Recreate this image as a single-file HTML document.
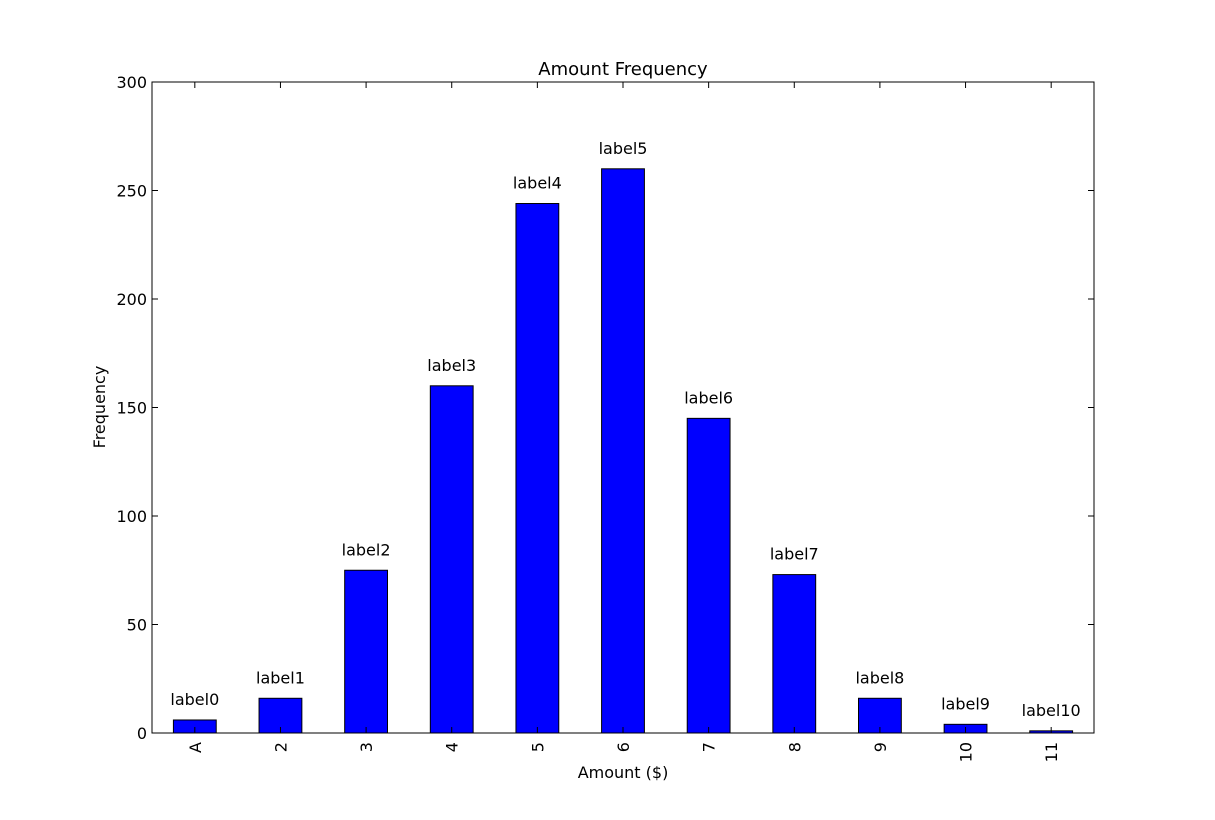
<!DOCTYPE html>
<html><head><meta charset="utf-8"><style>
body{margin:0;background:#fff;}
svg text{font-family:"DejaVu Sans","Liberation Sans",sans-serif;fill:#000;}
</style></head><body>
<svg id="chart" width="1215" height="815" xmlns="http://www.w3.org/2000/svg">
<rect width="1215" height="815" fill="#fff"/>
<text x="623" y="75" font-size="18" text-anchor="middle">Amount Frequency</text>
<text x="623" y="778" font-size="16" text-anchor="middle">Amount ($)</text>
<text transform="translate(105,407) rotate(-90)" font-size="16" text-anchor="middle">Frequency</text>
<g id="plot"></g>
</svg>
<script>
const categories = ["A","2","3","4","5","6","7","8","9","10","11"];
const values = [6,16,75,160,244,260,145,73,16,4,1];
const barLabels = ["label0","label1","label2","label3","label4","label5","label6","label7","label8","label9","label10"];
const yTicks = [0,50,100,150,200,250,300];

const L=152,R=1094,T=82,B=733,yMax=300;
const n=categories.length, step=(R-L)/n, bw=step*0.5;
const xC=i=>L+step*(i+0.5);
const y=v=>B-(v/yMax)*(B-T);
const NS="http://www.w3.org/2000/svg";
const g=document.getElementById('plot');
function mk(t,a){const e=document.createElementNS(NS,t);for(const k in a)e.setAttribute(k,a[k]);g.appendChild(e);return e;}

values.forEach((v,i)=>{
  const r=mk('rect',{x:xC(i)-bw/2,y:y(v),width:bw,height:B-y(v),fill:'#0000ff',stroke:'#000','stroke-width':1});
  
  
  const t=mk('text',{x:xC(i),y:y(v)-15,'font-size':16,'text-anchor':'middle'});
  t.textContent=barLabels[i];
  
  
  mk('line',{x1:xC(i),x2:xC(i),y1:B,y2:B-6,stroke:'#000'});
  mk('line',{x1:xC(i),x2:xC(i),y1:T,y2:T+6,stroke:'#000'});
  const xt=mk('text',{transform:`translate(${xC(i)+6},${B+9}) rotate(-90)`,'font-size':16,'text-anchor':'end'});
  xt.textContent=categories[i];
  
  
});
yTicks.forEach(v=>{
  mk('line',{x1:L,x2:L+6,y1:y(v),y2:y(v),stroke:'#000'});
  mk('line',{x1:R,x2:R-6,y1:y(v),y2:y(v),stroke:'#000'});
  const t=mk('text',{x:L-5,y:y(v)+6,'font-size':16,'text-anchor':'end'});
  t.textContent=v;
  
  
});
const f=mk('rect',{x:L,y:T,width:R-L,height:B-T,fill:'none',stroke:'#000','stroke-width':1});


</script>
</body></html>
